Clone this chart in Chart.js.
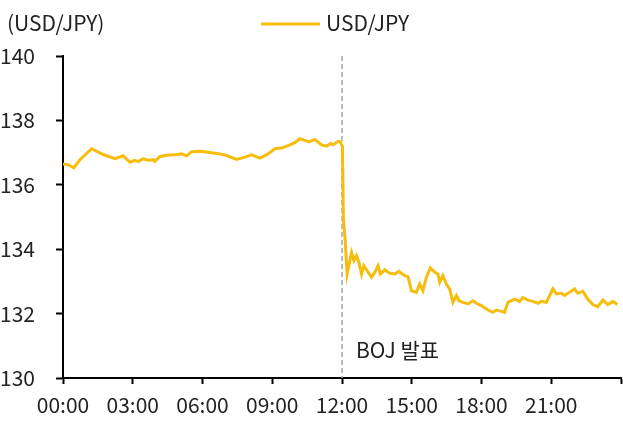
<!DOCTYPE html>
<html>
<head>
<meta charset="utf-8">
<script src="https://cdn.jsdelivr.net/npm/chart.js@4"></script>
<style>
  html, body { margin: 0; padding: 0; background: #fff; }
  #wrap { width: 623px; height: 436px; }
</style>
</head>
<body>
<div id="wrap"><canvas id="fx"></canvas></div>
<script>
// hours since 00:00 and USD/JPY level
var hours = [0, 0.23, 0.47, 0.73, 1.23, 1.73, 2.23, 2.59, 2.88, 3.09, 3.24, 3.45, 3.67, 3.88, 3.95,
  4.17, 4.46, 4.89, 5.10, 5.32, 5.53, 5.89, 6.32, 6.75, 7.04, 7.46, 7.82, 8.11, 8.47, 8.82, 9.11,
  9.40, 9.76, 9.97, 10.19, 10.40, 10.58, 10.83, 11.12, 11.33, 11.50, 11.62, 11.83, 11.93,
  12.02, 12.06, 12.13, 12.22, 12.41, 12.51, 12.62, 12.73, 12.84, 12.94, 13.08, 13.27, 13.41, 13.55,
  13.65, 13.84, 14.05, 14.27, 14.45, 14.70, 14.84, 14.99, 15.20, 15.34, 15.48, 15.63, 15.80, 15.99,
  16.13, 16.20, 16.34, 16.49, 16.63, 16.77, 16.92, 17.03, 17.20, 17.42, 17.63, 17.78, 17.99, 18.28,
  18.49, 18.64, 18.85, 18.99, 19.14, 19.42, 19.64, 19.78, 20.00, 20.21, 20.43, 20.57, 20.79, 20.93,
  21.07, 21.22, 21.43, 21.57, 21.79, 22.00, 22.14, 22.36, 22.57, 22.79, 23.00, 23.22, 23.43, 23.65,
  23.84];
var usdJpy = [136.65, 136.62, 136.53, 136.78, 137.12, 136.94, 136.81, 136.90, 136.70, 136.76, 136.72,
  136.81, 136.76, 136.78, 136.73, 136.88, 136.92, 136.94, 136.96, 136.90, 137.03, 137.04, 137.00,
  136.96, 136.91, 136.79, 136.86, 136.93, 136.83, 136.96, 137.12, 137.14, 137.24, 137.31, 137.43,
  137.38, 137.33, 137.41, 137.24, 137.20, 137.28, 137.24, 137.35, 137.33,
  137.18, 134.91, 134.35, 133.23, 133.90, 133.65, 133.80, 133.59, 133.23, 133.49, 133.33, 133.13,
  133.28, 133.49, 133.23, 133.36, 133.25, 133.23, 133.31, 133.18, 133.15, 132.71, 132.66, 132.92,
  132.71, 133.13, 133.42, 133.28, 133.23, 132.97, 133.18, 132.92, 132.77, 132.35, 132.56, 132.40,
  132.35, 132.30, 132.40, 132.32, 132.25, 132.11, 132.04, 132.11, 132.07, 132.04, 132.35, 132.45,
  132.38, 132.50, 132.42, 132.38, 132.32, 132.38, 132.35, 132.56, 132.77, 132.61, 132.63, 132.56,
  132.66, 132.77, 132.63, 132.69, 132.45, 132.28, 132.21, 132.42, 132.28, 132.38, 132.28];
var xTicks = [0, 3, 6, 9, 12, 15, 18, 21, 24];
var yTicks = [130, 132, 134, 136, 138, 140];
var bojHour = 12;

var FONT = '"Noto Sans CJK KR", "Noto Sans", sans-serif';
var LINE = '#f6bd0c';
var TXT = '#222';

// title, legend, BOJ marker
var extras = {
  id: 'extras',
  beforeDatasetsDraw: function (chart) {
    var ctx = chart.ctx, x = chart.scales.x, y = chart.scales.y;
    var px = x.getPixelForValue(bojHour);
    ctx.save();
    ctx.strokeStyle = '#a8a8a8';
    ctx.lineWidth = 1.5;
    ctx.setLineDash([5, 3]);
    ctx.beginPath();
    ctx.moveTo(px, y.getPixelForValue(140));
    ctx.lineTo(px, y.getPixelForValue(130));
    ctx.stroke();
    ctx.restore();
  },
  afterDraw: function (chart) {
    var ctx = chart.ctx, x = chart.scales.x;
    ctx.save();
    ctx.font = '21px ' + FONT;
    ctx.fillStyle = TXT;
    ctx.textBaseline = 'middle';
    ctx.textAlign = 'left';
    ctx.fillText('(USD/JPY)', 7, 23);
    ctx.fillText('USD/JPY', 326, 23);
    ctx.fillText('BOJ 발표', x.getPixelForValue(bojHour) + 14, 350);
    ctx.strokeStyle = LINE;
    ctx.lineWidth = 3;
    ctx.beginPath();
    ctx.moveTo(261, 24);
    ctx.lineTo(320, 24);
    ctx.stroke();
    ctx.restore();
  }
};

new Chart(document.getElementById('fx'), {
  type: 'line',
  data: {
    datasets: [{
      label: 'USD/JPY',
      data: hours.map(function (h, i) { return { x: h, y: usdJpy[i] }; }),
      borderColor: LINE,
      backgroundColor: LINE,
      borderWidth: 3,
      pointRadius: 0,
      tension: 0
    }]
  },
  options: {
    responsive: true,
    maintainAspectRatio: false,
    animation: false,
    layout: { padding: { top: 56, right: 2, left: 0, bottom: 0 } },
    plugins: { legend: { display: false }, tooltip: { enabled: false } },
    scales: {
      x: {
        type: 'linear',
        min: 0, max: 24,
        afterBuildTicks: function (s) { s.ticks = xTicks.map(function (v) { return { value: v }; }); },
        afterFit: function (s) { s.height = 58; s.paddingRight = 0; },
        grid: { drawOnChartArea: false, tickLength: 6, tickColor: '#000', tickWidth: 2 },
        border: { color: '#000', width: 2 },
        ticks: {
          maxRotation: 0,
          padding: 8,
          color: TXT,
          font: { family: FONT, size: 21 },
          callback: function (v) { return v >= 24 ? '' : (v < 10 ? '0' : '') + v + ':00'; }
        }
      },
      y: {
        min: 130, max: 140,
        afterBuildTicks: function (s) { s.ticks = yTicks.map(function (v) { return { value: v }; }); },
        afterFit: function (s) { s.width = 63; },
        grid: { drawOnChartArea: false, tickLength: 7, tickColor: '#000', tickWidth: 2 },
        border: { color: '#000', width: 2 },
        ticks: {
          crossAlign: 'far',
          padding: 4,
          color: TXT,
          font: { family: FONT, size: 21 }
        }
      }
    }
  },
  plugins: [extras]
});
</script>
</body>
</html>
